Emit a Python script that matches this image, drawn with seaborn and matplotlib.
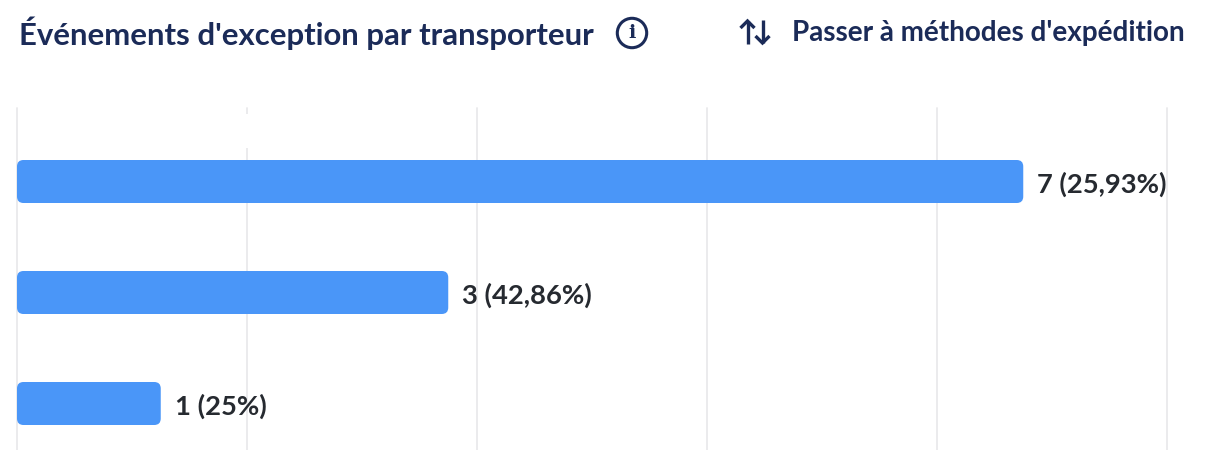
import matplotlib
matplotlib.use("Agg")
import matplotlib.pyplot as plt
from matplotlib.lines import Line2D
from matplotlib.patches import Circle, FancyBboxPatch
import pandas as pd
import seaborn as sns

carriers = ["Transporteur 1", "Transporteur 2", "Transporteur 3"]
counts = [7, 3, 1]
shares = ["25,93%", "42,86%", "25%"]
x_ticks = [0, 1.6, 3.2, 4.8, 6.4, 8]

W, H = 1208, 450
NAVY = "#1b2b58"
BLUE = "#4a96f8"
FONT = "Lato"


def fx(px):
    return px / W


def fy(py):
    return 1 - py / H


sns.set_theme(style="white")
plt.rcParams["font.family"] = [FONT, "DejaVu Sans"]

fig = plt.figure(figsize=(W / 100, H / 100), dpi=100, facecolor="white")
ax = fig.add_axes([fx(17), 0, (1167 - 17) / W, (450 - 108) / H])

df = pd.DataFrame({"carrier": carriers, "count": counts})
sns.barplot(data=df, y="carrier", x="count", color=BLUE, saturation=1,
            width=43 / 111, ax=ax, zorder=3)

ax.set_xlim(x_ticks[0], x_ticks[-1])
ax.set_ylim((450 - 181.5) / 111, (108 - 181.5) / 111)
ax.set_xticks(x_ticks)
ax.set_yticks([])
ax.set_xlabel("")
ax.set_ylabel("")
ax.tick_params(axis="x", length=0, labelbottom=False)
sns.despine(ax=ax, left=True, bottom=True, top=True, right=True)
ax.patch.set_alpha(0)
ax.xaxis.grid(True, color="#e9e9ec", linewidth=1.3, zorder=0, clip_on=False)
ax.set_axisbelow(True)

# The second gridline is interrupted just below its top end
ax.vlines(x_ticks[1], (114 - 181.5) / 111, (148 - 181.5) / 111,
          color="white", linewidth=3, zorder=1)

# Swap the square bars for rounded ones with the same geometry
px_x = 1150 / x_ticks[-1]
px_y = 111
radius = 6.5 / px_x
for bar in list(ax.patches):
    x0, y0, w, h = bar.get_x(), bar.get_y(), bar.get_width(), bar.get_height()
    bar.set_visible(False)
    ax.add_patch(FancyBboxPatch((x0, y0), w, h,
                                boxstyle=f"round,pad=0,rounding_size={radius}",
                                mutation_aspect=px_x / px_y,
                                facecolor=BLUE, edgecolor="none", zorder=3))

for i, (n, share) in enumerate(zip(counts, shares)):
    ax.annotate(f"{n} ({share})", (n, i), xytext=(10.2, -2.2),
                textcoords="offset points", va="center", ha="left",
                fontsize=19.7, fontweight="bold", color="#262a30", zorder=4)

fig.text(fx(19), fy(33), "Événements d'exception par transporteur",
         fontsize=22.4, fontweight="bold", color=NAVY, va="center", ha="left")
fig.text(fx(792), fy(33.5), "Passer à méthodes d'expédition",
         fontsize=20.05, fontweight="bold", color=NAVY, va="center", ha="left")

# Info badge
fig.add_artist(Circle((632, H - 33), 14.7, transform=None, fill=False,
                      edgecolor=NAVY, linewidth=2.2))
fig.text(fx(632), fy(33.5), "i", fontsize=14, fontweight="bold", family="DejaVu Serif",
         color=NAVY, va="center", ha="center")


# Swap icon: an up arrow next to a down arrow
def arrow(x, tip, tail, head):
    direction = 1 if tail > tip else -1
    fig.add_artist(Line2D([x, x], [H - tip, H - tail], transform=None,
                          color=NAVY, linewidth=2.4, solid_capstyle="butt"))
    fig.add_artist(Line2D([x - head, x, x + head],
                          [H - tip - direction * head, H - tip, H - tip - direction * head],
                          transform=None, color=NAVY, linewidth=2.4,
                          solid_joinstyle="miter", solid_capstyle="butt"))


arrow(747.5, 21, 44, 7)
arrow(762.5, 43, 20, 7)

fig.savefig("out.png", dpi=100, facecolor="white")
